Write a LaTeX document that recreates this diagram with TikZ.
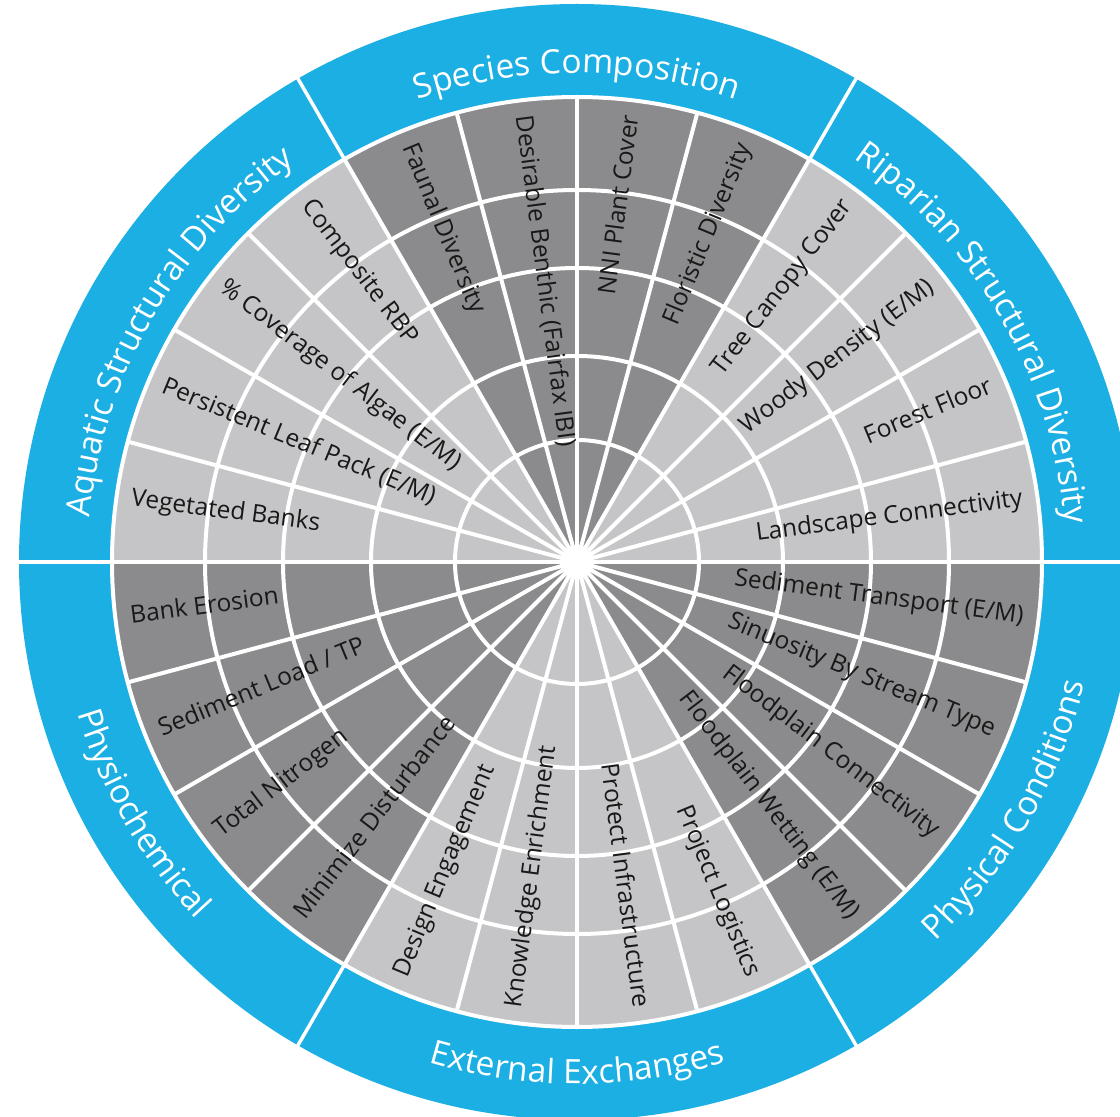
\documentclass[tikz,border=0pt]{standalone}
\usepackage{fontspec}
\setmainfont{Open Sans}
\usetikzlibrary{decorations.text}
\definecolor{wheelblue}{HTML}{1BAFE3}
\definecolor{darkseg}{HTML}{8B8B8D}
\definecolor{lightseg}{HTML}{C5C5C7}
\definecolor{labeltext}{HTML}{181818}
\newcommand\catfont{\fontsize{33.5}{40}\selectfont}
\tikzset{
  seglabel/.style={font=\fontsize{24.5}{29}\selectfont, text=labeltext, inner sep=0pt},
  ringline/.style={white, line width=4pt},
  divline/.style={white, line width=3.5pt},
}
% right-half label: reads from centre outward
\newcommand\rlab[3]{\node[seglabel, anchor=mid east, rotate=#1] (#2) at (#1:450pt) {#3};}
% left-half label: reads from outside toward centre
\newcommand\llab[3]{\node[seglabel, anchor=mid west, rotate=#1-180] (#2) at (#1:450pt) {#3};}
\begin{document}
\begin{tikzpicture}
\clip (-577pt,-555pt) rectangle (543pt,562pt);
\fill[white] (-577pt,-555pt) rectangle (543pt,562pt);
\fill[wheelblue] (0,0) circle[radius=558pt];
\foreach \a/\c in {0/lightseg,60/darkseg,120/lightseg,180/darkseg,240/lightseg,300/darkseg} {
  \fill[\c] (0,0) -- (\a:465pt) arc[start angle=\a, end angle=\a+60, radius=465pt] -- cycle;
}
\foreach \r in {122,206,294,372,465} \draw[ringline] (0,0) circle[radius=\r pt];
\foreach \i in {0,...,23} \draw[ringline] (0,0) -- (\i*15:465pt);
\foreach \a in {0,60,...,300} \draw[divline] (\a:463pt) -- (\a:562pt);
\fill[white] (0,0) circle[radius=17pt];

% category labels
\path[decorate, decoration={text along path, text={|\catfont|Species Composition}, text align=center, text color=white}]
  (120:489pt) arc[start angle=120, end angle=60, radius=489pt];
\path[decorate, decoration={text along path, text={|\catfont|Riparian Structural Diversity}, text align=center, text color=white}]
  (60:489pt) arc[start angle=60, end angle=0, radius=489pt];
\path[decorate, decoration={text along path, text={|\catfont|Aquatic Structural Diversity}, text align=center, text color=white}]
  (180:489pt) arc[start angle=180, end angle=120, radius=489pt];
\path[decorate, decoration={text along path, text={|\catfont|Physiochemical}, text align=center, text color=white}]
  (180:522pt) arc[start angle=180, end angle=240, radius=522pt];
\path[decorate, decoration={text along path, text={|\catfont|External Exchanges}, text align=center, text color=white}]
  (240:522pt) arc[start angle=240, end angle=300, radius=522pt];
\path[decorate, decoration={text along path, text={|\catfont|Physical Conditions}, text align=center, text color=white}]
  (300:522pt) arc[start angle=300, end angle=360, radius=522pt];

% segment labels, right half
\rlab{82.5}{nni}{NNI Plant Cover}
\rlab{67.5}{flor}{Floristic Diversity}
\rlab{52.5}{tree}{Tree Canopy Cover}
\rlab{37.5}{woody}{Woody Density (E/M)}
\rlab{22.5}{forest}{Forest Floor}
\rlab{7.5}{land}{Landscape Connectivity}
\rlab{-7.5}{sedt}{Sediment Transport (E/M)}
\rlab{-22.5}{sinu}{Sinuosity By Stream Type}
\rlab{-37.5}{fpc}{Floodplain Connectivity}
\rlab{-52.5}{fpw}{Floodplain Wetting (E/M)}
\rlab{-67.5}{logi}{Project Logistics}
\rlab{-82.5}{infra}{Protect Infrastructure}
% segment labels, left half
\llab{97.5}{benth}{Desirable Benthic (Fairfax IBI)}
\llab{112.5}{faun}{Faunal Diversity}
\llab{127.5}{rbp}{Composite RBP}
\llab{142.5}{algae}{\% Coverage of Algae (E/M)}
\llab{157.5}{leaf}{Persistent Leaf Pack (E/M)}
\llab{172.5}{veg}{Vegetated Banks}
\llab{187.5}{bank}{Bank Erosion}
\llab{202.5}{sedl}{Sediment Load / TP}
\llab{217.5}{nitro}{Total Nitrogen}
\llab{232.5}{mini}{Minimize Disturbance}
\llab{247.5}{design}{Design Engagement}
\llab{262.5}{know}{Knowledge Enrichment}
\end{tikzpicture}
\end{document}
